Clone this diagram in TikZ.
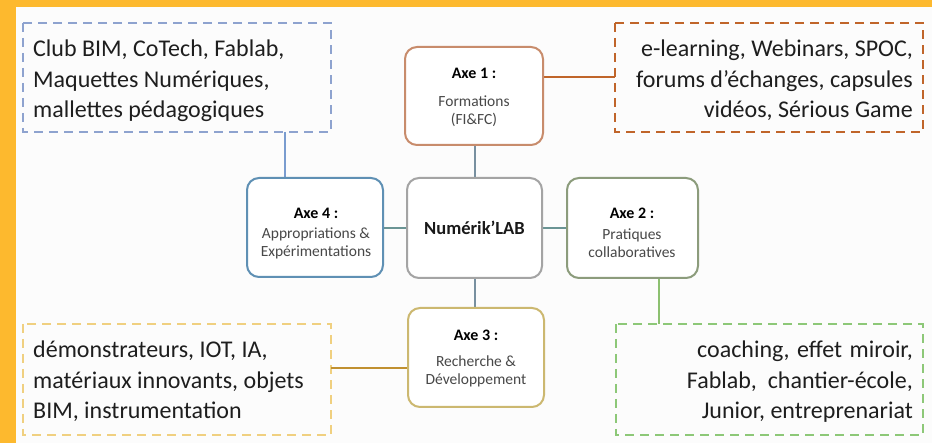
\documentclass[tikz,border=0pt]{standalone}
\usepackage{fontspec}
\setmainfont{Carlito}
\definecolor{frame}{HTML}{FDB92E}
\definecolor{cTL}{HTML}{8EA3CF}
\definecolor{cTR}{HTML}{C0652A}
\definecolor{cBL}{HTML}{F0D080}
\definecolor{cBR}{HTML}{8DC878}
\definecolor{bA1}{HTML}{C88C6C}
\definecolor{bA4}{HTML}{5F90B4}
\definecolor{bC}{HTML}{A4A4A4}
\definecolor{bA2}{HTML}{8C9C7C}
\definecolor{bA3}{HTML}{CCB870}
\definecolor{lTR}{HTML}{C0652A}
\definecolor{lV}{HTML}{7890A0}
\definecolor{lTL}{HTML}{7A9CCF}
\definecolor{lH}{HTML}{6A9494}
\definecolor{lBR}{HTML}{8CC070}
\definecolor{lBL}{HTML}{C09030}
\definecolor{txt}{HTML}{1E1E1E}
\definecolor{sub}{HTML}{484848}
\begin{document}
\begin{tikzpicture}[x=1pt,y=-1pt,
  dashbox/.style={line width=2.4pt,dash pattern=on 9pt off 6pt},
  axebox/.style={line width=2pt,rounded corners=12pt,fill=white},
  desc/.style={font=\fontsize{24}{30.5}\selectfont,text=txt,inner sep=0pt},
  axetitle/.style={font=\fontsize{16}{18}\bfseries\selectfont,text=black,inner sep=0pt},
  axesub/.style={font=\fontsize{15.5}{18}\selectfont,text=sub,align=center,inner sep=0pt},
  conn/.style={line width=2.2pt}]
\useasboundingbox (0,0) rectangle (932,443);
\fill[white!98!gray] (0,0) rectangle (932,443);
\fill[frame] (0,0) rectangle (932,7);
\fill[frame] (0,0) rectangle (16,443);

% dashed description boxes
\draw[dashbox,draw=cTL] (23,23) rectangle (331,132);
\node[desc,anchor=north west,align=left] (tl) at (33,40)
  {Club BIM, CoTech, Fablab,\\Maquettes Numériques,\\mallettes pédagogiques};
\coordinate (tlb) at (285,132);

\draw[dashbox,draw=cTR] (615,23) rectangle (923,132);
\node[desc,anchor=north east,align=right] (tr) at (913,40)
  {e-learning, Webinars, SPOC,\\forums d’échanges, capsules\\vidéos, Sérious Game};
\coordinate (trl) at (615,77);

\draw[dashbox,draw=cBL] (23,324) rectangle (331,435);
\node[desc,anchor=north west,align=left] (bl) at (33,341)
  {démonstrateurs, IOT, IA,\\matériaux innovants, objets\\BIM, instrumentation};
\coordinate (blr) at (331,368);

\draw[dashbox,draw=cBR] (616,324) rectangle (923,435);
\node[desc,anchor=north east,align=right] (br) at (913,341)
  {coaching,\hspace{7.5pt}effet\hspace{7.5pt}miroir,\\Fablab,\ \ chantier-école,\\Junior, entreprenariat};
\coordinate (brt) at (659,324);

% connectors (drawn first, boxes cover ends)
\coordinate (a1b) at (475,145);
\coordinate (ct) at (475,178);
\coordinate (cb) at (475,278);
\coordinate (a3t) at (475,308);
\coordinate (a1r) at (543,77);
\coordinate (a4t) at (285,178);
\coordinate (a4r) at (383,228);
\coordinate (cl) at (407,228);
\coordinate (cr) at (542,228);
\coordinate (a2l) at (567,228);
\coordinate (a2b) at (659,278);
\coordinate (a3l) at (408,368);
\draw[conn,lTR] (a1r) -- (trl);
\draw[conn,lV] (a1b) -- (ct);
\draw[conn,lV] (cb) -- (a3t);
\draw[conn,lTL] (tlb) -- (a4t);
\draw[conn,lH] (a4r) -- (cl);
\draw[conn,lH] (cr) -- (a2l);
\draw[conn,lBR] (a2b) -- (brt);
\draw[conn,lBL] (blr) -- (a3l);

% axis boxes
\draw[axebox,draw=bA1] (405,47) rectangle (543,145);
\node[axetitle] (t1) at (474,73) {Axe 1 :};
\node[axesub] (s1) at (474,111) {Formations\\(FI\&FC)};

\draw[axebox,draw=bC] (407,178) rectangle (542,278);
\node[font=\fontsize{18.5}{20}\bfseries\selectfont,inner sep=0pt,text=black!90] (c) at (474.5,228) {Numérik’LAB};

\draw[axebox,draw=bA4] (247,178) rectangle (383,277);
\node[axetitle] (t4) at (316,213) {Axe 4 :};
\node[axesub] (s4) at (316,243) {Appropriations \&\\Expérimentations};

\draw[axebox,draw=bA2] (567,178) rectangle (698,278);
\node[axetitle] (t2) at (632,213) {Axe 2 :};
\node[axesub] (s2) at (632,243) {Pratiques\\collaboratives};

\draw[axebox,draw=bA3] (408,308) rectangle (544,407);
\node[axetitle] (t3) at (476,335) {Axe 3 :};
\node[axesub] (s3) at (476,371) {Recherche \&\\Développement};
\end{tikzpicture}
\end{document}
